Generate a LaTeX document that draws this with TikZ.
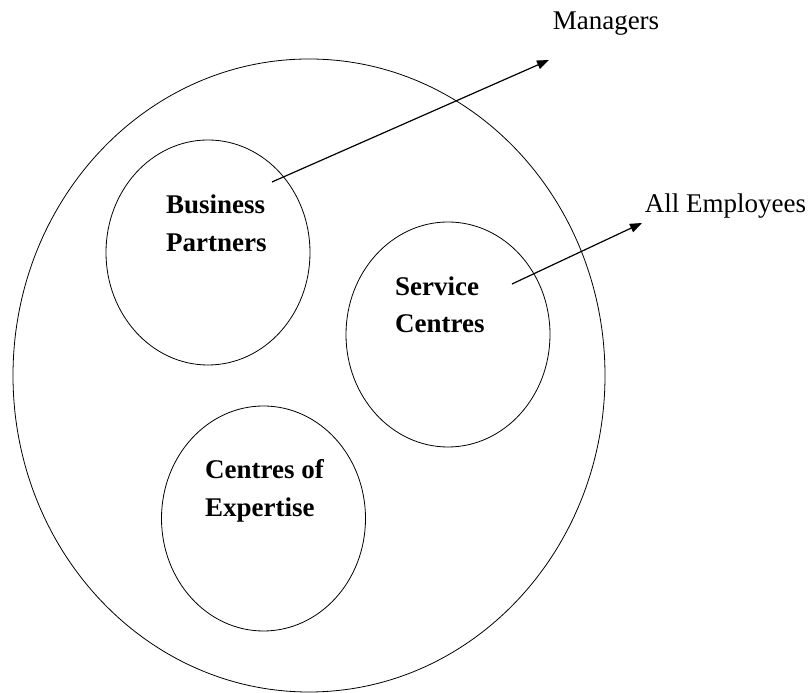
\documentclass[tikz,border=0pt]{standalone}
\usepackage{fontspec}
\setmainfont{Liberation Serif}
\usetikzlibrary{shapes.geometric,arrows.meta}
\tikzset{
	unit/.style = {draw, ellipse, line width = 0.8pt, inner sep = 0pt, outer sep = 0pt, minimum width = 204pt, minimum height = 225pt},
	unitlabel/.style = {anchor = west, inner sep = 0pt, align = left, font = \fontsize{27}{37.5}\selectfont\bfseries},
	target/.style = {anchor = base, inner sep = 0pt, font = \fontsize{27}{32}\selectfont},
	arr/.style = {line width = 1.2pt, -{Triangle[length = 12pt, width = 9pt]}}
}
\begin{document}
\begin{tikzpicture}[x = 1pt, y = 1pt]
	\useasboundingbox (0,0) rectangle (812,693);
	% the whole HR function
	\node[draw, ellipse, line width = 0.8pt, inner sep = 0pt, minimum width = 592pt, minimum height = 633pt] (hr) at (309,317.5) {};
	% the three parts
	\node[unit] (bp) at (208,440.5) {};
	\node[unit] (sc) at (448,358.5) {};
	\node[unit] (coe) at (263.5,174.5) {};
	\node[unitlabel] (bplabel) at (166,469.5) {Business\\Partners};
	\node[unitlabel] (sclabel) at (395,388) {Service\\Centres};
	\node[unitlabel] (coelabel) at (205,202) {Centres of\\Expertise};
	% who they serve
	\node[target] (mgr) at (606,663) {Managers};
	\node[target] (emp) at (725.5,480) {All Employees};
	\coordinate (bptail) at (272,511);
	\coordinate (mgrtip) at (549,633);
	\coordinate (sctail) at (512,409);
	\coordinate (emptip) at (642,470);
	\draw[arr] (bptail) -- (mgrtip);
	\draw[arr] (sctail) -- (emptip);
\end{tikzpicture}
\end{document}
